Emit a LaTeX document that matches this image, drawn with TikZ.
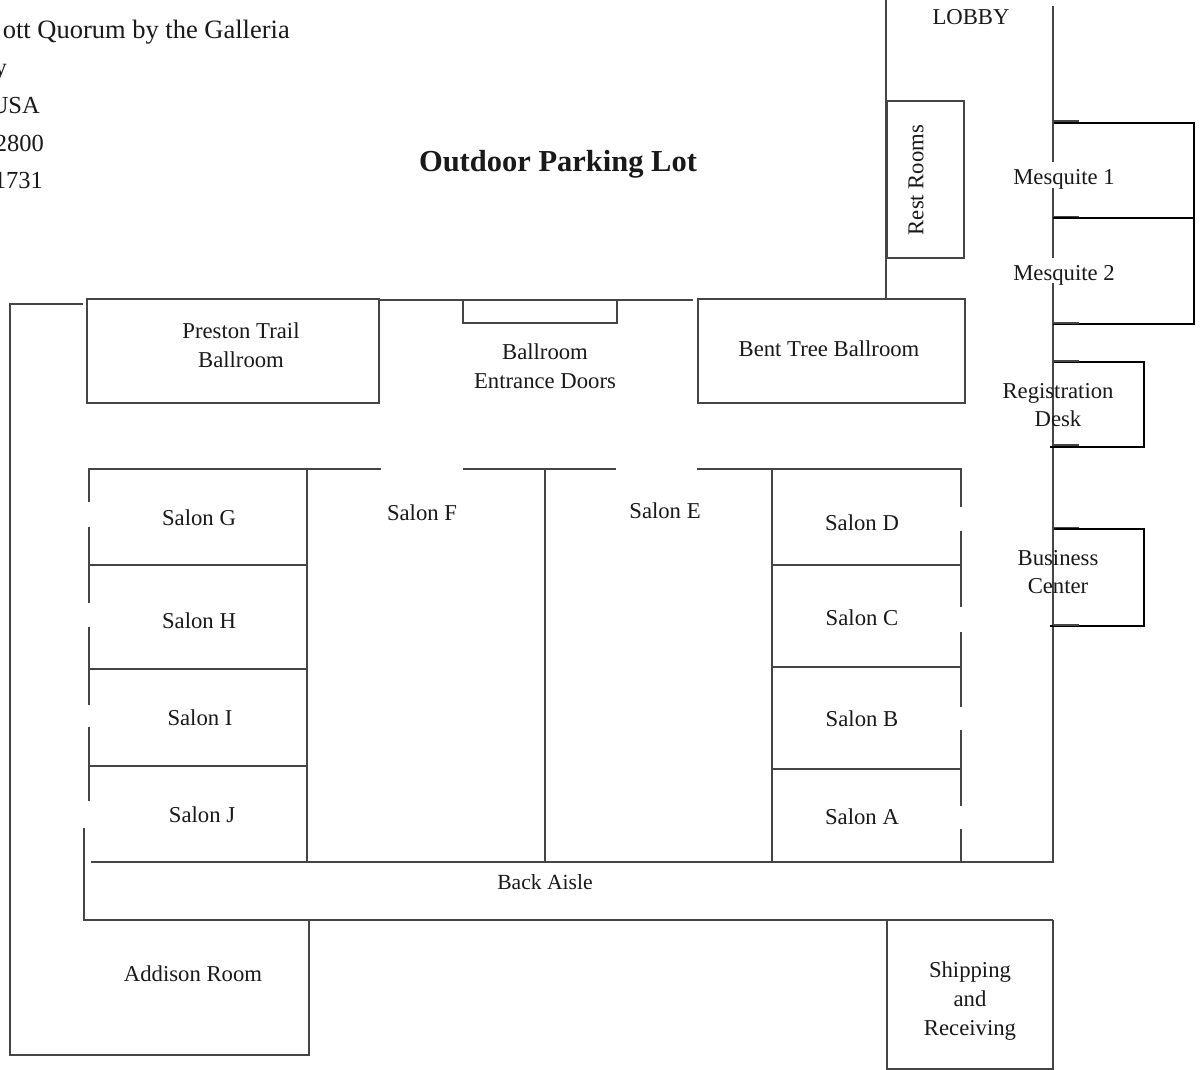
\documentclass[tikz,border=0pt]{standalone}
\usepackage{fontspec}
\setmainfont{Liberation Serif}
\tikzset{
  x=1pt,y=-1pt,
  wall/.style={draw=wallgray,line width=2.1pt,line cap=butt,line join=miter},
  blackwall/.style={draw=black,line width=2.5pt,line join=miter},
  tick/.style={draw=wallgray,line width=1.6pt},
  lbl/.style={inner sep=0pt,align=center,text=black!90,font=\fontsize{22.7}{28.6}\selectfont},
  addr/.style={inner sep=0pt,anchor=base east,text=black!90,font=\fontsize{24.5}{28}\selectfont},
}
\definecolor{wallgray}{HTML}{454545}
\begin{document}
\begin{tikzpicture}
\useasboundingbox[fill=white] (0,0) rectangle (1202,1069);
\clip (0,0) rectangle (1202,1069);
% rooms at the top
\draw[wall] (87,299) rectangle (379,403);
\draw[wall] (698,299) rectangle (965,403);
\draw[wall] (887,101) rectangle (964,258);
\draw[wall] (380,300) -- (693,300);
\draw[wall] (463,300) -- (463,323) -- (617,323) -- (617,300);
% outer left wall
\draw[wall] (83,304) -- (10,304) -- (10,1055) -- (309,1055) -- (309,920);
\draw[wall] (84,828) -- (84,920) -- (1053,920);
\draw[wall] (887,920) -- (887,1069) -- (1053,1069) -- (1053,920);
% lobby
\draw[wall] (886,0) -- (886,299);
\draw[wall] (1053,6) -- (1053,162);
\draw[wall] (1053,188) -- (1053,258);
\draw[wall] (1053,283) -- (1053,862) -- (91,862);
% salons
\draw[wall] (89,502) -- (89,469) -- (381,469);
\draw[wall] (463,469) -- (616,469);
\draw[wall] (697,469) -- (961,469) -- (961,507);
\draw[wall] (307,469) -- (307,862);
\draw[wall] (545,469) -- (545,862);
\draw[wall] (772,469) -- (772,862);
\draw[wall] (89,527) -- (89,603);
\draw[wall] (89,627) -- (89,705);
\draw[wall] (89,727) -- (89,801);
\draw[wall] (961,531) -- (961,607);
\draw[wall] (961,632) -- (961,707);
\draw[wall] (961,730) -- (961,806);
\draw[wall] (961,829) -- (961,862);
\draw[wall] (89,565) -- (307,565);
\draw[wall] (89,669) -- (307,669);
\draw[wall] (89,766) -- (307,766);
\draw[wall] (772,565) -- (961,565);
\draw[wall] (772,667) -- (961,667);
\draw[wall] (772,769) -- (961,769);
% side rooms
\draw[blackwall] (1054,123) -- (1194,123) -- (1194,324) -- (1053,324);
\draw[blackwall] (1053,218) -- (1194,218);
\draw[blackwall] (1054,362) -- (1144,362) -- (1144,447) -- (1050,447);
\draw[blackwall] (1054,529) -- (1144,529) -- (1144,626) -- (1050,626);
\draw[tick] (1053,121) -- (1079,121);
\draw[tick] (1053,216.5) -- (1079,216.5);
\draw[tick] (1053,323) -- (1079,323);
\draw[tick] (1053,361) -- (1079,361);
\draw[tick] (1053,445) -- (1079,445);
\draw[tick] (1053,527.5) -- (1079,527.5);
\draw[tick] (1053,625) -- (1079,625);
% address
\node[addr,font=\fontsize{26.5}{30}\selectfont] (addr1) at (290,38) {ott Quorum by the Galleria};
\node[addr] (addr2) at (7,75) {y};
\node[addr] (addr3) at (40,113) {USA};
\node[addr] (addr4) at (44,151) {2800};
\node[addr] (addr5) at (43,188) {1731};
% labels
\node[inner sep=0pt,text=black!90,font=\fontsize{30.5}{36}\selectfont\bfseries] (lot) at (558,164) {Outdoor Parking Lot};
\node[lbl] (lobby) at (971,17) {LOBBY};
\node[lbl,rotate=90] (rest) at (916,180) {Rest Rooms};
\node[lbl] (m1) at (1064,179) {Mesquite 1};
\node[lbl] (m2) at (1064,275) {Mesquite 2};
\node[lbl] (reg) at (1058,405) {Registration\\Desk};
\node[lbl] (bus) at (1058,572) {Business\\Center};
\node[lbl] (prest) at (241,345) {Preston Trail\\Ballroom};
\node[lbl] (entr) at (545,366) {Ballroom\\Entrance Doors};
\node[lbl] (bent) at (829,349) {Bent Tree Ballroom};
\node[lbl] (g) at (199,518) {Salon G};
\node[lbl] (h) at (199,621) {Salon H};
\node[lbl] (i) at (200,718) {Salon I};
\node[lbl] (j) at (202,815) {Salon J};
\node[lbl] (f) at (422,513) {Salon F};
\node[lbl] (e) at (665,511) {Salon E};
\node[lbl] (d) at (862,523) {Salon D};
\node[lbl] (c) at (862,618) {Salon C};
\node[lbl] (b) at (862,719) {Salon B};
\node[lbl] (a) at (862,817) {Salon A};
\node[lbl,font=\fontsize{21.6}{28}\selectfont] (aisle) at (545,882) {Back Aisle};
\node[lbl] (add) at (193,974) {Addison Room};
\node[lbl] (ship) at (970,1001) {Shipping\\and\\Receiving};
\end{tikzpicture}
\end{document}
